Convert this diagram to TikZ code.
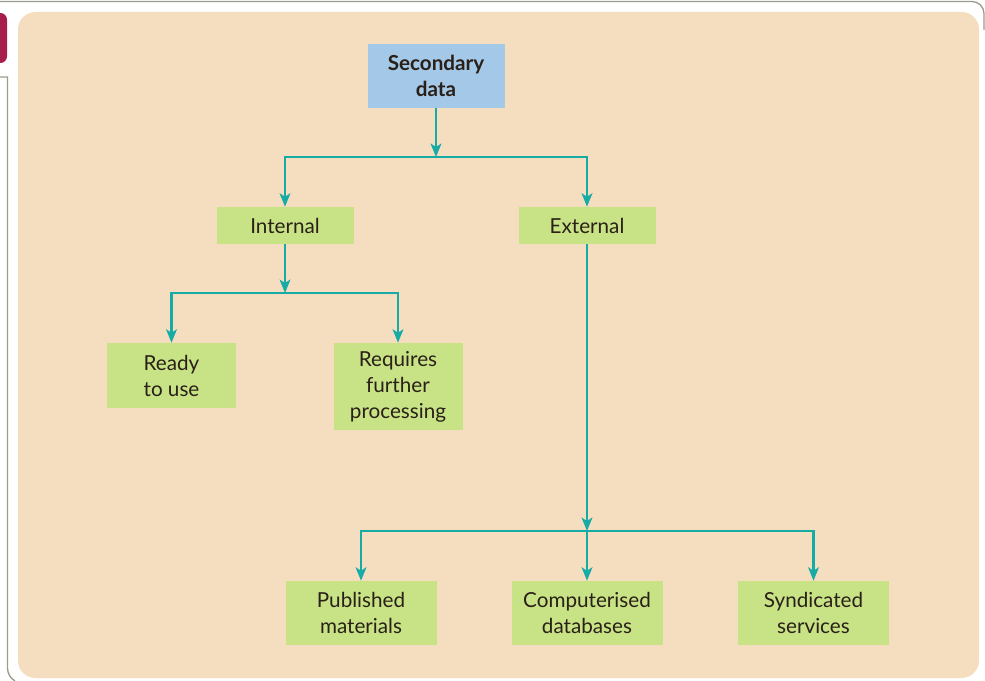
\documentclass[tikz,border=0pt]{standalone}
\usepackage{fontspec}
\setmainfont{Lato}
\usetikzlibrary{arrows.meta}
\definecolor{beige}{HTML}{F5DEC0}
\definecolor{boxgreen}{HTML}{C8E385}
\definecolor{boxblue}{HTML}{A3C8E8}
\definecolor{teal2}{HTML}{16ABA5}
\definecolor{maroon2}{HTML}{A61F4A}
\definecolor{framegrey}{HTML}{9C9C8C}
\definecolor{txt}{HTML}{2A2018}
\tikzset{
  box/.style={fill=boxgreen, draw=none, inner sep=0pt, align=center, text=txt, font=\fontsize{15.5}{19.5}\selectfont},
  topbox/.style={box, fill=boxblue, font=\fontsize{15.5}{19.5}\selectfont\bfseries},
  conn/.style={draw=teal2, line width=2.2pt},
  arr/.style={conn, -{Stealth[length=10pt, width=8pt, inset=2.5pt]}},
}
\begin{document}
\begin{tikzpicture}[x=0.75pt, y=-0.75pt]
\useasboundingbox (0,0) rectangle (985,681);
\fill[white] (0,0) rectangle (985,681);
% outer frame
\draw[framegrey, line width=1pt] (0,1.5) -- (972,1.5) arc[start angle=270, end angle=360, radius=12] -- (984,30);
\draw[framegrey, line width=1pt] (0,77) -- (7.5,77) -- (7.5,668) arc[start angle=180, end angle=120, radius=15];
\fill[maroon2, rounded corners=5pt] (-10,13) rectangle (7,63);
% panel
\fill[beige, rounded corners=13pt] (18,12) rectangle (979,678);
% nodes
\node[topbox, minimum width=137*0.75pt, minimum height=64*0.75pt] (sec) at (436,76) {Secondary\\data};
\node[box, minimum width=137*0.75pt, minimum height=37*0.75pt] (int) at (285,225.5) {Internal};
\node[box, minimum width=137*0.75pt, minimum height=37*0.75pt] (ext) at (587,225.5) {External};
\node[box, minimum width=129*0.75pt, minimum height=65*0.75pt] (ready) at (171.5,375.5) {Ready\\to use};
\node[box, minimum width=129*0.75pt, minimum height=87*0.75pt] (req) at (398,386.5) {Requires\\further\\processing};
\node[box, minimum width=151*0.75pt, minimum height=64*0.75pt] (pub) at (361,613) {Published\\materials};
\node[box, minimum width=151*0.75pt, minimum height=64*0.75pt] (comp) at (587,613) {Computerised\\databases};
\node[box, minimum width=151*0.75pt, minimum height=64*0.75pt] (syn) at (813.5,613) {Syndicated\\services};
% junctions
\coordinate (j1) at (436,157);
\coordinate (j2) at (285,293);
\coordinate (j3) at (587,531);
% connectors
\draw[arr] (sec.south) -- (j1);
\draw[arr] (j1) -| (int.north);
\draw[arr] (j1) -| (ext.north);
\draw[arr] (int.south) -- (j2);
\draw[arr] (j2) -| (ready.north);
\draw[arr] (j2) -| (req.north);
\draw[arr] (ext.south) -- (j3);
\draw[arr] (j3) -| (pub.north);
\draw[arr] (j3) -- (comp.north);
\draw[arr] (j3) -| (syn.north);
\end{tikzpicture}
\end{document}
